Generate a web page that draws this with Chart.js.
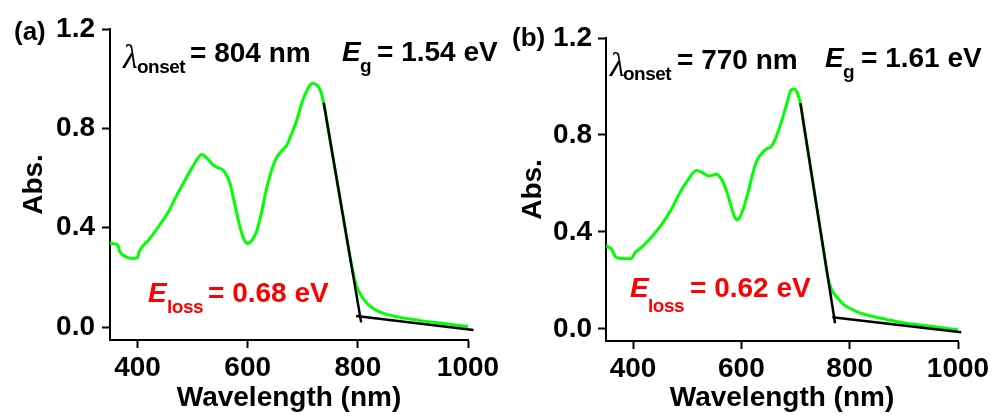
<!DOCTYPE html>
<html>
<head>
<meta charset="utf-8">
<script src="https://cdn.jsdelivr.net/npm/chart.js@4.4.0/dist/chart.umd.min.js"></script>
<style>
  body { margin: 0; background: #fff; }
  #fig { position: relative; width: 995px; height: 418px; overflow: hidden; background: #fff; }
  #fig canvas { position: absolute; top: 0; }
  .t { position: absolute; white-space: nowrap; font-family: "Liberation Sans", Arial, sans-serif;
       font-weight: bold; line-height: 1; color: #000; }
</style>
</head>
<body>
<div id="fig">
  <canvas id="chartA" width="520" height="418" style="left:0"></canvas>
  <canvas id="chartB" width="498" height="418" style="left:497px"></canvas>
</div>
<script>
// tick labels (shared by both panels)
const xTicks = [400, 600, 800, 1000];
const yTicks = [0.0, 0.4, 0.8, 1.2];

// (a) absorption spectrum
const wlA  = [350, 358, 364, 368, 377, 389, 400, 403, 420, 440, 456, 470, 486, 500, 517, 528, 538, 548, 556, 568,
              576, 583, 592, 600, 608, 617, 626, 635, 650, 660, 671, 680, 689, 698, 705, 712, 718, 725, 732, 738,
              747, 756, 765, 774, 783, 790, 798, 808, 817, 830, 847, 870, 908, 950, 1000];
const absA = [0.339, 0.335, 0.33, 0.303, 0.285, 0.276, 0.28, 0.303, 0.35, 0.41, 0.463, 0.525, 0.59, 0.645, 0.695, 0.675, 0.651, 0.64, 0.631, 0.578,
              0.5, 0.43, 0.36, 0.336, 0.35, 0.39, 0.47, 0.564, 0.671, 0.705, 0.732, 0.78, 0.832, 0.9, 0.94, 0.97, 0.982, 0.975, 0.953, 0.903,
              0.786, 0.669, 0.552, 0.435, 0.318, 0.235, 0.162, 0.12, 0.095, 0.072, 0.055, 0.042, 0.028, 0.016, 0.002];
// (a) onset construction lines
const edgeA_x = [738, 806];
const edgeA_y = [0.903, 0.019];
const baseA_x = [797, 1010];
const baseA_y = [0.045, -0.012];

// (b) absorption spectrum
const wlB  = [350, 356, 360, 367, 376, 388, 397, 403, 420, 450, 470, 486, 500, 517, 528, 539, 548, 554, 560, 566,
              574, 582, 587, 592, 597, 603, 612, 622, 630, 637, 646, 655, 664, 674, 684, 692, 698, 703, 709, 717,
              726, 735, 744, 753, 760, 766, 772, 778, 788, 800, 820, 843, 870, 904, 950, 1000];
const absB = [0.344, 0.335, 0.33, 0.298, 0.291, 0.289, 0.291, 0.312, 0.345, 0.422, 0.49, 0.56, 0.61, 0.653, 0.645, 0.631, 0.635, 0.638, 0.628, 0.607,
              0.56, 0.498, 0.465, 0.449, 0.46, 0.491, 0.56, 0.649, 0.7, 0.722, 0.742, 0.752, 0.79, 0.855, 0.93, 0.986, 0.99, 0.975, 0.931, 0.817,
              0.69, 0.562, 0.434, 0.306, 0.21, 0.165, 0.142, 0.127, 0.102, 0.085, 0.065, 0.051, 0.038, 0.023, 0.011, -0.004];
// (b) onset construction lines
const edgeB_x = [709, 773];
const edgeB_y = [0.931, 0.023];
const baseB_x = [768, 1006];
const baseB_y = [0.048, -0.014];

const FONT = '"Liberation Sans", Arial, sans-serif';
Chart.defaults.font.family = FONT;
Chart.defaults.color = '#000';

function pts(xs, ys) {
  return xs.map((x, i) => ({x: x, y: ys[i]}));
}

function makePanel(id, wl, abs, ex, ey, bx, by, g) {
  const H = 418;
  new Chart(document.getElementById(id), {
    type: 'line',
    data: {
      datasets: [
        { data: pts(ex, ey), borderColor: '#000', borderWidth: 2.5, pointRadius: 0, clip: false, order: 0 },
        { data: pts(bx, by), borderColor: '#000', borderWidth: 2.5, pointRadius: 0, clip: false, order: 0 },
        { data: pts(wl, abs), borderColor: '#00ff00', borderWidth: 3, pointRadius: 0,
          cubicInterpolationMode: 'monotone', order: 1 }
      ]
    },
    options: {
      responsive: false,
      animation: false,
      events: [],
      layout: { padding: { left: 0, top: g.top, right: g.W - g.right, bottom: 0 } },
      plugins: { legend: { display: false }, tooltip: { enabled: false } },
      scales: {
        x: {
          type: 'linear', position: 'bottom', min: 350, max: 1000,
          afterBuildTicks: s => { s.ticks = xTicks.map(v => ({value: v})); },
          afterFit: s => { s.height = H - g.bottom; s.paddingLeft = 0; s.paddingRight = 0; },
          ticks: { font: { size: 28, weight: 'bold' }, color: '#000', padding: 3, maxRotation: 0,
                   autoSkip: false, callback: v => String(v) },
          grid: { drawOnChartArea: false, drawTicks: true, tickLength: 8, tickWidth: 2, tickColor: '#000' },
          border: { display: true, color: '#000', width: 2 },
          title: { display: true, text: 'Wavelength (nm)', color: '#000',
                   font: { size: 28, weight: 'bold', lineHeight: 1 }, padding: { top: 0, bottom: 6 } }
        },
        y: {
          type: 'linear', position: 'left', min: g.yMin, max: 1.2,
          afterBuildTicks: s => { s.ticks = yTicks.map(v => ({value: v})); },
          afterFit: s => { s.width = g.left; s.paddingTop = 0; s.paddingBottom = 0; },
          ticks: { font: { size: 28, weight: 'bold' }, color: '#000', padding: g.yTickPad,
                   callback: v => v.toFixed(1) },
          grid: { drawOnChartArea: false, drawTicks: true, tickLength: 8, tickWidth: 2, tickColor: '#000' },
          border: { display: true, color: '#000', width: 2 },
          title: { display: true, text: 'Abs.', color: '#000',
                   font: { size: 28, weight: 'bold', lineHeight: 1 }, padding: { top: g.yTitlePad, bottom: 0 } }
        }
      }
    }
  });
}

makePanel('chartA', wlA, absA, edgeA_x, edgeA_y, baseA_x, baseA_y,
  { W: 520, left: 110, right: 468, top: 29, bottom: 340, yMin: -0.052, yTickPad: 7, yTitlePad: 20 });
makePanel('chartB', wlB, absB, edgeB_x, edgeB_y, baseB_x, baseB_y,
  { W: 498, left: 109, right: 461, top: 38, bottom: 341, yMin: -0.05, yTickPad: 6, yTitlePad: 22 });

// annotations, placed by baseline
const fig = document.getElementById('fig');
function txt(s, x, base, size, o) {
  o = o || {};
  const d = document.createElement('div');
  d.className = 't';
  d.textContent = s;
  d.style.fontSize = size + 'px';
  d.style.left = x + 'px';
  let asc = 0.8465;
  if (o.serif) {
    d.style.fontFamily = '"Liberation Serif", "Times New Roman", serif';
    d.style.fontWeight = 'normal';
    asc = 0.8375;
  }
  if (o.italic) d.style.fontStyle = 'italic';
  if (o.red) d.style.color = '#ff0000';
  if (o.ls) d.style.letterSpacing = o.ls + 'px';
  d.style.top = (base - asc * size) + 'px';
  fig.appendChild(d);
}

// panel (a)
txt('(a)', 14, 40, 26);
txt('λ', 123, 68, 34, {serif: true, italic: true});
txt('onset', 137, 73, 19, {ls: -0.5});
txt('= 804 nm', 190, 63, 28);
txt('E', 342, 62, 28, {italic: true});
txt('g', 360, 72, 19);
txt('= 1.54 eV', 377, 62, 28);
txt('E', 148, 303, 28, {italic: true, red: true});
txt('loss', 167, 313, 19, {red: true, ls: -0.5});
txt('= 0.68 eV', 208, 303, 28, {red: true});

// panel (b)
txt('(b)', 512, 46, 26);
txt('λ', 610, 76, 34, {serif: true, italic: true});
txt('onset', 623, 80, 19, {ls: -0.5});
txt('= 770 nm', 677, 70, 28);
txt('E', 825, 68, 28, {italic: true});
txt('g', 843, 78, 19);
txt('= 1.61 eV', 861, 68, 28);
txt('E', 630, 298, 28, {italic: true, red: true});
txt('loss', 648, 312, 19, {red: true, ls: -0.5});
txt('= 0.62 eV', 690, 298, 28, {red: true});
</script>
</body>
</html>
